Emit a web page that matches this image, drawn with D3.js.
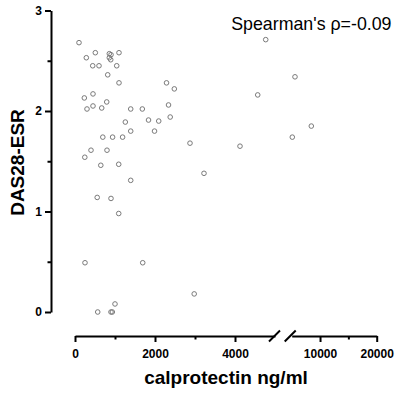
<!DOCTYPE html>
<html>
<head>
<meta charset="utf-8">
<script src="https://cdn.jsdelivr.net/npm/d3@7"></script>
<style>
    body { margin: 0; background: #fff; }
    text { font-family: "Liberation Sans", Arial, sans-serif; }
    .axis path, .axis line { stroke: #000; stroke-width: 2; }
    .axis text { font-size: 12px; font-weight: bold; fill: #000; }
</style>
</head>
<body>
<div id="chart"></div>
<script>

// calprotectin (ng/ml) and DAS28-ESR
let calprotectin = [
    100, 283, 508, 443, 600, 858, 900, 858, 893, 1100,
    1043, 818, 1100, 233, 450, 300, 450, 668, 793, 1393,
    1683, 1258, 1393, 1838, 2093, 1988, 2288, 2483, 2338, 2380,
    695, 940, 1190, 2875, 400, 800, 245, 645, 1093, 1393,
    555, 900, 1093, 250, 1693, 2980, 568, 900, 933, 1000,
    4768, 5580, 4568, 8460, 5106, 4125, 3225
]
let das28 = [
    2.68, 2.53, 2.58, 2.45, 2.45, 2.57, 2.56, 2.53, 2.51, 2.58,
    2.45, 2.36, 2.28, 2.13, 2.17, 2.02, 2.05, 2.03, 2.09, 2.02,
    2.02, 1.89, 1.80, 1.91, 1.90, 1.80, 2.28, 2.22, 2.06, 1.94,
    1.74, 1.74, 1.74, 1.68, 1.61, 1.61, 1.54, 1.46, 1.47, 1.31,
    1.14, 1.13, 0.98, 0.49, 0.49, 0.18, 0.00, 0.00, 0.00, 0.08,
    2.71, 2.34, 2.16, 1.85, 1.74, 1.65, 1.38
]

let xMajorLow = [0, 2000, 4000]
let xMinorLow = [1000, 3000]
let xMajorHigh = [10000, 20000]
let xMinorHigh = [15000]
let yMajor = [0, 1, 2, 3]
let yMinor = [0.5, 1.5, 2.5]
let breakAt = 5000
let rhoText = "Spearman's ρ=-0.09"

let width = 395, height = 395

let svg = d3.select("#chart").append("svg")
    .attr("width", width)
    .attr("height", height)

// scales: x axis broken at 5000
let xLow = d3.scaleLinear().domain([0, breakAt]).range([75, 275])
let xHigh = d3.scaleLinear().domain([breakAt, 20000]).range([291.7, 376.7])
let x = v => v <= breakAt ? xLow(v) : xHigh(v)
let y = d3.scaleLinear().domain([0, 3]).range([312, 10.5])

let axisY = 336
let axisX = 51

// y axis
svg.append("g")
    .attr("class", "axis")
    .attr("transform", `translate(${axisX},0)`)
    .call(d3.axisLeft(y).tickValues(yMajor).tickFormat(d3.format("d")).tickSize(6).tickSizeOuter(0).tickPadding(3))

svg.append("g")
    .attr("class", "axis")
    .attr("transform", `translate(${axisX},0)`)
    .call(d3.axisLeft(y).tickValues(yMinor).tickFormat("").tickSize(3.5).tickSizeOuter(0))
    .select(".domain").remove()

// x axis, low part
svg.append("g")
    .attr("class", "axis")
    .attr("transform", `translate(0,${axisY})`)
    .call(d3.axisBottom(xLow).tickValues(xMajorLow).tickFormat(d3.format("d")).tickSize(6).tickSizeOuter(0).tickPadding(7))

svg.append("g")
    .attr("class", "axis")
    .attr("transform", `translate(0,${axisY})`)
    .call(d3.axisBottom(xLow).tickValues(xMinorLow).tickFormat("").tickSize(3.5).tickSizeOuter(0))
    .select(".domain").remove()

// x axis, high part
svg.append("g")
    .attr("class", "axis")
    .attr("transform", `translate(0,${axisY})`)
    .call(d3.axisBottom(xHigh).tickValues(xMajorHigh).tickFormat(d3.format("d")).tickSize(6).tickSizeOuter(0).tickPadding(7))

svg.append("g")
    .attr("class", "axis")
    .attr("transform", `translate(0,${axisY})`)
    .call(d3.axisBottom(xHigh).tickValues(xMinorHigh).tickFormat("").tickSize(3.5).tickSizeOuter(0))
    .select(".domain").remove()

// break marks
let bx = [xLow(breakAt) - 0.5, xHigh(breakAt) - 1.5]
svg.selectAll(".brk").data(bx)
    .enter().append("line")
    .attr("class", "brk")
    .attr("x1", d => d - 5.5)
    .attr("y1", axisY + 5.5)
    .attr("x2", d => d + 5.5)
    .attr("y2", axisY - 5.5)
    .attr("stroke", "#000")
    .attr("stroke-width", 2)

// points
svg.selectAll(".dot")
    .data(calprotectin)
    .enter().append("circle")
    .attr("class", "dot")
    .attr("cx", d => x(d))
    .attr("cy", (d, i) => y(das28[i]))
    .attr("r", 2.3)
    .attr("fill", "none")
    .attr("stroke", "#7a7a7a")
    .attr("stroke-width", 1)

// labels
svg.append("text")
    .attr("x", 226)
    .attr("y", 384)
    .attr("text-anchor", "middle")
    .attr("font-size", 19)
    .attr("font-weight", "bold")
    .text("calprotectin ng/ml")

svg.append("text")
    .attr("transform", "translate(23.5,162.5) rotate(-90)")
    .attr("text-anchor", "middle")
    .attr("font-size", 19)
    .attr("font-weight", "bold")
    .text("DAS28-ESR")

svg.append("text")
    .attr("x", 391.5)
    .attr("y", 29.5)
    .attr("text-anchor", "end")
    .attr("font-size", 17.8)
    .text(rhoText)

</script>
</body>
</html>
